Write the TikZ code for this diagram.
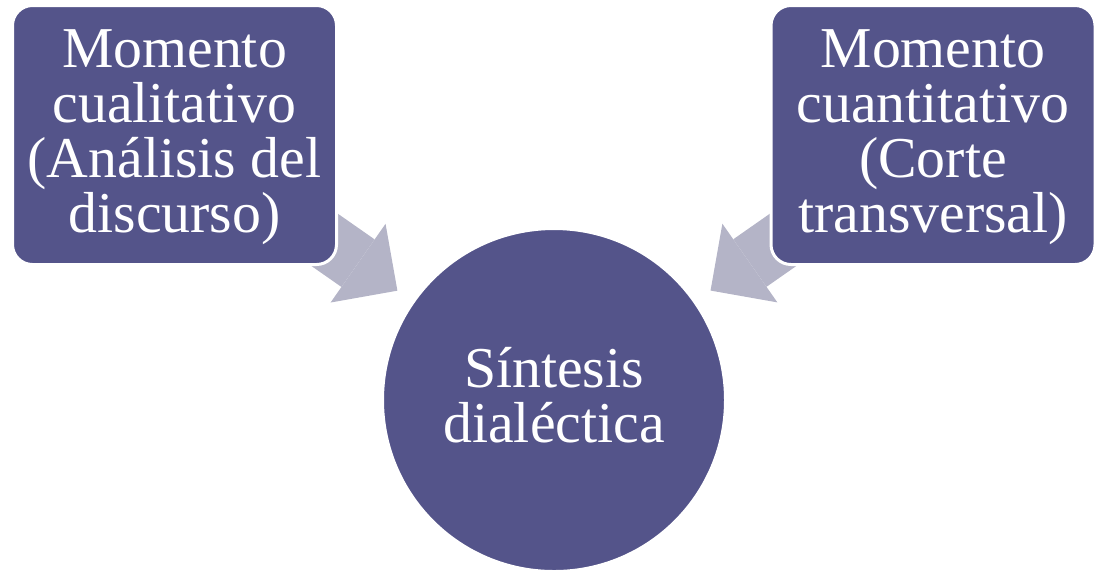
\documentclass[tikz,border=0pt]{standalone}
\usepackage{fontspec}
\setmainfont{Liberation Serif}
\usetikzlibrary{arrows.meta,backgrounds}
\definecolor{momentblue}{RGB}{84,84,138}
\definecolor{flowgray}{RGB}{180,180,199}
\tikzstyle{moment}=[rectangle, rounded corners=10pt, fill=momentblue, draw=white, line width=1.5pt, minimum width=162pt, minimum height=129.5pt, inner sep=0pt, text height=104pt, text=white, align=center, font=\fontsize{28.9}{27.5}\selectfont]
\tikzstyle{synthesis}=[circle, fill=momentblue, draw=white, line width=1.5pt, minimum size=171.5pt, inner sep=0pt, text depth=5pt, text=white, align=center, font=\fontsize{28.9}{27.5}\selectfont]
\tikzstyle{flow}=[flowgray, line width=29pt, -{Triangle[length=24pt, width=48pt, line width=0pt]}, shorten >=9pt]

\begin{document}
\begin{tikzpicture}[x=0.5pt, y=-0.5pt]
    \useasboundingbox (0,0) rectangle (1095,570);
% Moments
    \node[moment] (qual) at (174.5,135) {Momento\\cualitativo\\(Análisis del\\discurso)};
    \node[moment] (quan) at (933,135) {Momento\\cuantitativo\\(Corte\\transversal)};
% Synthesis
    \node[synthesis] (sint) at (554,400) {Síntesis\\dialéctica};
% Arrows behind the moments
    \begin{scope}[on background layer]
    \draw[flow] (qual.center) -- (sint);
    \draw[flow] (quan.center) -- (sint);
    \end{scope}
\end{tikzpicture}
\end{document}
